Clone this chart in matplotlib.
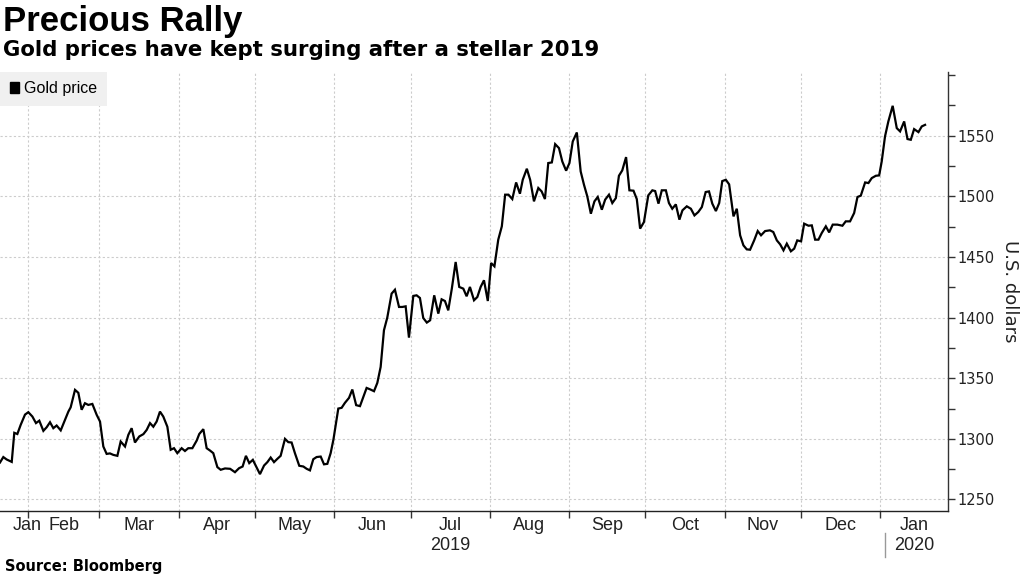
import matplotlib
matplotlib.use("Agg")
import matplotlib.pyplot as plt
import matplotlib.transforms as mtransforms
from matplotlib.patches import Patch
from matplotlib.lines import Line2D
import pandas as pd

# ---------------- data ----------------
start_date = "2019-01-21"
end_date = "2020-01-27 14:00"

# calendar days after start_date
day_offsets = [
    0.0, 1.3, 2.6, 4.6, 5.6, 6.8, 8.1, 9.8, 11.1, 12.7, 14.1, 15.4, 17.0, 18.3,
    19.6, 20.9, 22.2, 23.8, 25.5, 26.8, 27.7, 29.4, 30.7, 32.0, 33.3, 34.6, 36.2,
    37.9, 39.2, 40.5, 41.8, 43.1, 44.4, 46.0, 47.3, 49.0, 50.3, 51.6, 52.9, 54.6,
    56.2, 57.5, 58.8, 60.1, 61.4,
    62.7, 64.0, 65.6, 66.9, 68.2, 69.5, 71.2, 72.5, 73.8, 75.4, 77.1, 78.1, 79.7,
    81.0, 82.3, 83.6, 85.2, 86.5, 88.2, 90.2, 92.1, 93.7, 95.1, 96.4, 97.7, 99.1,
    100.6, 101.9, 103.5, 104.8, 106.1, 107.4, 108.7, 110.0, 111.7, 113.0, 114.3,
    115.6, 117.3, 118.9, 120.2, 121.5, 122.8, 124.1, 125.7, 127.0, 128.3, 129.6,
    130.7, 132.6, 133.9, 135.2, 136.8, 138.1, 139.6, 141.1, 142.4, 143.7, 145.0,
    146.6, 147.9, 149.2, 150.5, 151.8, 153.5, 154.8, 156.4, 157.7, 159.0, 160.3,
    162.0, 163.3, 164.6, 165.9, 167.3, 168.6, 170.2, 171.8, 173.1, 174.4, 175.7,
    177.1, 178.6, 180.0, 181.6, 182.9, 184.2, 185.8, 187.1, 188.4, 189.7, 191.2,
    192.5, 193.8,
    195.3, 196.7, 198.0, 199.3, 200.8, 202.3, 203.8, 204.9, 206.5, 207.8, 209.3,
    211.0, 212.3, 213.6, 214.9, 216.3, 217.6, 219.1, 220.4, 221.9, 223.2, 224.5,
    226.1, 227.6, 228.9, 230.2, 231.6, 233.0, 234.3, 235.9, 237.2, 238.7, 240.0,
    241.4, 242.6, 243.9, 245.4, 246.7, 248.3, 249.6,
    250.9, 252.4, 254.1, 255.7, 256.8, 258.1, 259.4, 261.0, 262.2, 263.5, 264.9,
    266.3, 267.5, 269.2, 270.8, 272.2, 273.7, 275.1, 276.6, 277.9, 279.2, 280.6,
    281.9, 283.1, 284.5, 285.8, 287.5, 288.8, 290.1, 291.4, 292.7, 294.0, 295.6,
    297.0, 298.3, 299.9, 301.8, 303.1, 304.5, 305.8, 307.1, 308.4, 310.0, 311.3,
    312.5, 314.0,
    315.2, 316.9, 318.2, 319.5, 320.8, 322.1, 323.7, 325.0, 326.4, 328.2, 330.2,
    331.5, 333.2, 334.8, 336.1, 337.4, 339.1, 340.4, 341.7, 343.3, 344.6, 345.6,
    346.9, 348.2, 349.9, 351.5, 352.8, 354.4, 355.7, 357.0, 358.3, 360.0, 361.3,
    362.6,
]

gold_price = [
    1280.5, 1285.0, 1283.0, 1281.0, 1305.0, 1304.0, 1311.5, 1320.0, 1322.0, 1318.4,
    1313.0, 1315.0, 1306.6, 1309.6, 1313.7, 1308.8, 1311.0, 1307.0, 1315.7, 1322.5,
    1326.0, 1340.4, 1338.0, 1324.0, 1329.4, 1328.0, 1328.8, 1319.8, 1314.3, 1293.7,
    1287.6, 1288.0, 1286.8, 1286.0, 1297.8, 1293.7, 1303.3, 1308.8, 1297.0, 1302.0,
    1303.9, 1307.4, 1313.0, 1310.0, 1314.3,
    1322.5, 1318.4, 1310.0, 1291.0, 1292.3, 1288.2, 1292.3, 1290.0, 1292.3, 1292.3,
    1298.6, 1304.0, 1308.0, 1292.3, 1290.4, 1288.2, 1276.7, 1274.5, 1275.6, 1275.3,
    1272.5, 1275.8, 1277.2, 1286.0, 1280.0, 1282.7, 1276.4, 1270.9, 1278.0, 1280.8,
    1284.6, 1280.8, 1283.5, 1286.0, 1300.0, 1297.3, 1297.0, 1288.2, 1277.8, 1277.2,
    1275.3, 1274.0, 1283.2, 1285.0, 1285.4, 1279.0, 1279.4, 1288.2,
    1299.5, 1325.0, 1325.6, 1329.7, 1333.8, 1340.7, 1327.8, 1327.0, 1334.6, 1342.0,
    1340.9, 1339.3, 1346.2, 1359.3, 1389.6, 1400.0, 1419.8, 1423.0, 1408.8, 1408.8,
    1409.3, 1383.5, 1417.9, 1418.4, 1416.2, 1399.7, 1395.9, 1397.8, 1418.4, 1403.3,
    1415.1, 1413.7, 1406.0, 1423.9, 1445.9, 1425.3, 1423.9, 1417.6, 1425.3, 1414.3,
    1417.0, 1425.3, 1430.8, 1413.7, 1445.0, 1442.3,
    1464.3, 1475.3, 1501.4, 1501.4, 1497.8, 1511.5, 1502.2, 1513.7, 1522.8, 1513.7,
    1495.9, 1506.9, 1504.1, 1497.8, 1527.5, 1528.0, 1543.1, 1539.8, 1528.8, 1521.2,
    1527.5, 1545.3, 1552.7, 1520.6, 1509.6, 1500.0, 1485.7, 1495.9, 1499.5, 1489.0,
    1497.3, 1501.4, 1494.5, 1498.6, 1517.0, 1521.4, 1532.4, 1505.0, 1504.7, 1497.8,
    1473.4, 1478.8, 1500.8, 1505.0, 1504.4, 1494.0, 1505.0, 1505.0, 1494.5, 1489.8,
    1493.4, 1480.8, 1488.5, 1491.8, 1489.8, 1484.3, 1487.1, 1491.2, 1503.6, 1504.1,
    1494.0, 1487.9, 1494.5, 1512.6, 1513.7, 1509.9, 1483.5, 1489.8, 1467.9, 1459.6,
    1456.3, 1456.0, 1463.7, 1471.4, 1467.9, 1471.4, 1472.0, 1470.6, 1463.7, 1460.4,
    1455.5, 1461.0, 1454.7, 1456.9, 1463.7, 1462.9,
    1477.5, 1475.8, 1476.1, 1464.3, 1464.3, 1469.8, 1475.3, 1470.3, 1476.7, 1476.7,
    1475.8, 1479.4, 1479.4, 1486.3, 1499.5, 1500.6, 1511.5, 1511.0, 1515.1, 1517.0,
    1517.3, 1528.8, 1549.5, 1561.8, 1574.7, 1556.3, 1553.6, 1561.8, 1547.3, 1546.7,
    1555.5, 1553.0, 1557.7, 1559.0,
]

month_labels = ["Jan", "Feb", "Mar", "Apr", "May", "Jun", "Jul", "Aug",
                "Sep", "Oct", "Nov", "Dec", "Jan"]
year_labels = ["2019", "2020"]
y_ticks = [1250, 1300, 1350, 1400, 1450, 1500, 1550]
y_minor_ticks = [1275, 1325, 1375, 1425, 1475, 1525, 1575, 1600]

series_name = "Gold price"
title = "Precious Rally"
subtitle = "Gold prices have kept surging after a stellar 2019"
y_label = "U.S. dollars"
source = "Source: Bloomberg"

NARROW = "Liberation Sans"

# ---------------- figure ----------------
W, H = 1024, 576
fig = plt.figure(figsize=(W / 100, H / 100), dpi=100)
fig.patch.set_facecolor("white")

ax_top_px, ax_bot_px, ax_right_px = 71.5, 511.0, 948.0
ax = fig.add_axes([0.0, 1 - ax_bot_px / H, ax_right_px / W, (ax_bot_px - ax_top_px) / H])

dates = pd.to_datetime(start_date) + pd.to_timedelta(day_offsets, unit="D")
ax.plot(dates, gold_price, color="black", lw=1.6, solid_joinstyle="miter", zorder=3)

x0, x1 = pd.Timestamp(start_date), pd.Timestamp(end_date)
ax.set_xlim(x0, x1)
ax.set_ylim(1240.5, 1603)

# spines
for s in ["left", "top"]:
    ax.spines[s].set_visible(False)
ax.spines["right"].set_color("#333333")
ax.spines["right"].set_linewidth(1.0)
ax.spines["bottom"].set_color("#222222")
ax.spines["bottom"].set_linewidth(1.0)

# y axis on right
ax.yaxis.tick_right()
ax.set_yticks(y_ticks)
ax.set_yticks(y_minor_ticks, minor=True)
ax.set_yticklabels([str(v) for v in y_ticks])
ax.tick_params(axis="y", which="both", direction="out", length=5, width=1,
               color="#333333", pad=2, labelsize=10.5, labelcolor="#222222")
for t in ax.get_yticklabels():
    t.set_family("DejaVu Sans")

fig.text(1010 / W, 1 - 291 / H, y_label, rotation=270, fontsize=13, color="#222222",
         ha="center", va="center", family="DejaVu Sans")

# x axis: month starts as ticks, labels centred in months
month_starts = pd.date_range("2019-02-01", "2020-01-01", freq="MS")
edges = [x0] + list(month_starts) + [x1]
label_pos = [edges[i] + (edges[i + 1] - edges[i]) / 2 for i in range(len(edges) - 1)]
label_pos[0] = pd.Timestamp("2019-01-31 12:00")  # first partial month label kept inside the frame
ax.set_xticks(month_starts)
ax.set_xticklabels([])
ax.set_xticks(label_pos, minor=True)
ax.set_xticklabels(month_labels, minor=True)
ax.tick_params(axis="x", which="major", direction="out", length=5, width=1, color="#333333")
ax.tick_params(axis="x", which="minor", length=0, pad=4, labelsize=13, labelcolor="#222222")
for t in ax.get_xticklabels(minor=True):
    t.set_family(NARROW)

# grid
ax.grid(True, which="major", axis="both", color="#cccccc", lw=0.8,
        linestyle=(0, (2, 2)), zorder=0)
ax.grid(False, which="minor")

# year labels
trans = mtransforms.blended_transform_factory(ax.transData, fig.transFigure)
ax.text(label_pos[6], 1 - 546 / H, year_labels[0], transform=trans, ha="center",
        va="center", fontsize=13, color="#222222", family=NARROW)
ax.text(label_pos[12], 1 - 546 / H, year_labels[1], transform=trans, ha="center",
        va="center", fontsize=13, color="#222222", family=NARROW)
sep = Line2D([month_starts[-1] + pd.Timedelta(days=2)] * 2, [1 - 533 / H, 1 - 557 / H],
             transform=trans, color="#999999", lw=1, clip_on=False)
ax.add_line(sep)

# legend
leg = ax.legend(handles=[Patch(facecolor="black", edgecolor="black")], labels=[series_name],
                loc="upper left", bbox_to_anchor=(0.0, 1.0), frameon=True, fancybox=False,
                facecolor="#f0f0f0", edgecolor="none", framealpha=1, borderaxespad=0,
                handlelength=0.6, handleheight=0.6, handletextpad=0.3, borderpad=0.6,
                prop={"family": NARROW, "size": 11.5})
leg.set_zorder(5)

# titles and source
fig.text(3 / W, 1 - 21 / H, title, fontsize=25, weight="bold", color="black",
         family=NARROW, va="center", ha="left")
fig.text(3 / W, 1 - 50 / H, subtitle, fontsize=15.3, weight="bold", color="black",
         family="DejaVu Sans", va="center", ha="left")
fig.text(5 / W, 1 - 566 / H, source, fontsize=10.5, weight="bold", color="black",
         family="DejaVu Sans", va="center", ha="left")

fig.savefig("out.png", dpi=100)
